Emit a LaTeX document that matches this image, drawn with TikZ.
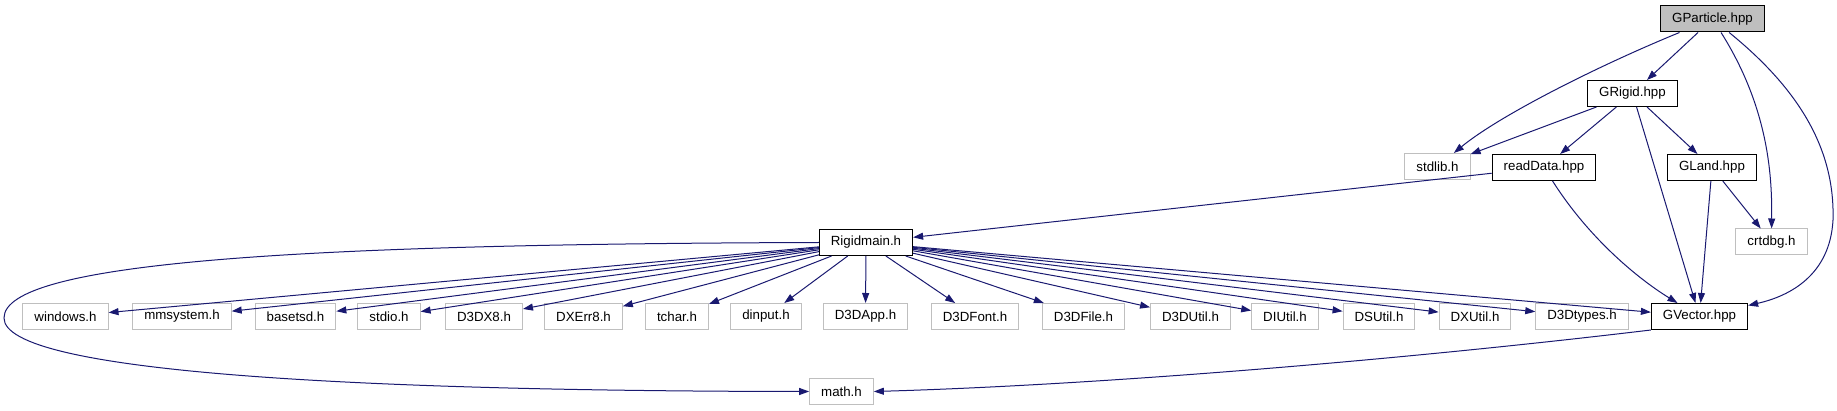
\documentclass[tikz,border=0pt]{standalone}
\usepackage{fontspec}
\setmainfont{Liberation Sans}
\usetikzlibrary{arrows.meta}
\definecolor{midnight}{HTML}{191970}

\begin{document}
\begin{tikzpicture}[
  x=1pt, y=-1pt,
  font=\fontsize{13.3}{16}\selectfont,
  hdr/.style={draw=black, line width=1pt, minimum height=26pt, inner xsep=11.5pt,
              inner ysep=2pt, fill=white},
  sys/.style={hdr, draw=black!25},
  root/.style={hdr, fill=black!25},
  dep/.style={-{Triangle[length=10pt,width=7pt]}, line width=1pt, midnight},
]
  \useasboundingbox (0,0) rectangle (1837,411);

  % project headers, top part
  \node[root] (particle) at (1712.5,19) {GParticle.hpp};
  \node[hdr] (rigid) at (1632.5,93.5) {GRigid.hpp};
  \node[sys] (stdlib) at (1437.5,166.5) {stdlib.h};
  \node[hdr] (readdata) at (1544,167.5) {readData.hpp};
  \node[hdr] (land) at (1712,167.5) {GLand.hpp};
  \node[hdr] (rigidmain) at (866,242.5) {Rigidmain.h};
  \node[sys] (crtdbg) at (1771.5,242) {crtdbg.h};

  % included by Rigidmain.h
  \node[sys] (windows) at (65.5,316.5) {windows.h};
  \node[sys] (mmsystem) at (182,316.5) {mmsystem.h};
  \node[sys] (basetsd) at (295.5,316.5) {basetsd.h};
  \node[sys] (stdio) at (389,316.5) {stdio.h};
  \node[sys] (dxeight) at (484,316.5) {D3DX8.h};
  \node[sys] (dxerr) at (583.5,316.5) {DXErr8.h};
  \node[sys] (tchar) at (677,316.5) {tchar.h};
  \node[sys] (dinput) at (766,316.5) {dinput.h};
  \node[sys] (dapp) at (865.5,316.5) {D3DApp.h};
  \node[sys] (dfont) at (975,316.5) {D3DFont.h};
  \node[sys] (dfile) at (1083.5,316.5) {D3DFile.h};
  \node[sys] (dutil) at (1190.5,316.5) {D3DUtil.h};
  \node[sys] (diutil) at (1285,316.5) {DIUtil.h};
  \node[sys] (dsutil) at (1379,316.5) {DSUtil.h};
  \node[sys] (dxutil) at (1475,316.5) {DXUtil.h};
  \node[sys] (dtypes) at (1582,316.5) {D3Dtypes.h};
  \node[hdr] (vector) at (1699.5,316.5) {GVector.hpp};
  \node[sys] (math) at (841.5,391.5) {math.h};

  \draw[dep] (particle) .. controls (1600,65) and (1500,115) .. (stdlib);
  \draw[dep] (particle) -- (rigid);
  \draw[dep] (particle) .. controls (1770,110) and (1772,180) .. (crtdbg);
  \draw[dep] (particle) .. controls (1800,90) and (1835,150) .. (1833,220)
                        .. controls (1830,275) and (1790,296) .. (vector);
  \draw[dep] (rigid) -- (stdlib);
  \draw[dep] (rigid) -- (readdata);
  \draw[dep] (rigid) -- (vector);
  \draw[dep] (rigid) -- (land);
  \draw[dep] (readdata) -- (rigidmain);
  \draw[dep] (readdata) .. controls (1590,240) and (1640,280) .. (vector);
  \draw[dep] (land) -- (vector);
  \draw[dep] (land) -- (crtdbg);

  \foreach \dst in {windows,mmsystem,basetsd,stdio,dxeight,dxerr,tchar,dinput,
                    dapp,dfont,dfile,dutil,diutil,dsutil,dxutil,dtypes,vector}
    \draw[dep] (rigidmain) -- (\dst);

  % math.h is reached twice: round the left side and from GVector.hpp
  \draw[dep] (rigidmain.west) .. controls (300,244) and (4,262) .. (4,318)
                              .. controls (4,372) and (350,391) .. (math.west);
  \draw[dep] (vector.south west) .. controls (1400,360) and (1100,385) .. (math.east);
\end{tikzpicture}
\end{document}
